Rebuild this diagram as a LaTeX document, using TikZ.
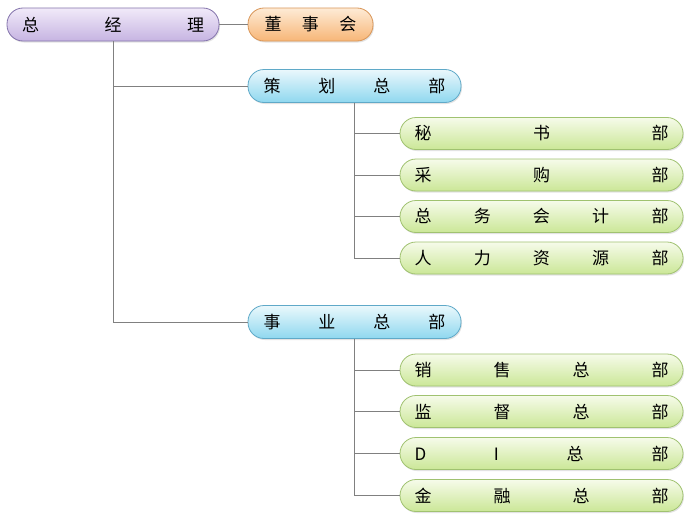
\documentclass[tikz,border=0pt]{standalone}
\usepackage{fontspec}
\setmainfont{Noto Sans CJK SC}
\usetikzlibrary{shadows}
\definecolor{pTop}{HTML}{F1EAF9}
\definecolor{pBot}{HTML}{C6B4E2}
\definecolor{pBrd}{HTML}{8474AC}
\definecolor{oTop}{HTML}{FEEBD6}
\definecolor{oBot}{HTML}{F7B677}
\definecolor{oBrd}{HTML}{D99658}
\definecolor{cTop}{HTML}{EAF8FC}
\definecolor{cBot}{HTML}{8FD7EF}
\definecolor{cBrd}{HTML}{5FA9C8}
\definecolor{gTop}{HTML}{F6FBEA}
\definecolor{gBot}{HTML}{CBE797}
\definecolor{gBrd}{HTML}{A0C270}
\definecolor{lineC}{HTML}{808080}
\begin{document}
\begin{tikzpicture}[x=1pt,y=-1pt,
  box/.style={rectangle, rounded corners=16pt, line width=0.8pt, inner sep=0pt,
    minimum height=33pt, font=\fontsize{17}{20}\selectfont,
    drop shadow={opacity=0.22, shadow xshift=1pt, shadow yshift=-1.5pt}},
  purp/.style={box, draw=pBrd, top color=pTop, bottom color=pBot},
  oran/.style={box, draw=oBrd, top color=oTop, bottom color=oBot},
  cyan/.style={box, draw=cBrd, top color=cTop, bottom color=cBot},
  gren/.style={box, draw=gBrd, top color=gTop, bottom color=gBot, minimum width=283pt, minimum height=32pt},
  conn/.style={draw=lineC, line width=0.9pt}]
\useasboundingbox (0,0) rectangle (696,522);
\fill[white] (0,0) rectangle (696,522);

\node[purp, minimum width=212pt] (gm) at (113,24.5) {\hbox to 182pt{总\hfil 经\hfil 理}};
\node[oran, minimum width=125pt] (bd) at (310.5,24.5) {\hbox to 92pt{董\hfil 事\hfil 会}};
\node[cyan, minimum width=213pt] (ch) at (354.5,86) {\hbox to 182pt{策\hfil 划\hfil 总\hfil 部}};
\node[cyan, minimum width=213pt] (sy) at (354.5,322) {\hbox to 182pt{事\hfil 业\hfil 总\hfil 部}};

\node[gren] (g1) at (541.5,133.5) {\hbox to 254pt{秘\hfil 书\hfil 部}};
\node[gren] (g2) at (541.5,175) {\hbox to 254pt{采\hfil 购\hfil 部}};
\node[gren] (g3) at (541.5,216.5) {\hbox to 254pt{总\hfil 务\hfil 会\hfil 计\hfil 部}};
\node[gren] (g4) at (541.5,258) {\hbox to 254pt{人\hfil 力\hfil 资\hfil 源\hfil 部}};
\node[gren] (h1) at (541.5,370) {\hbox to 254pt{销\hfil 售\hfil 总\hfil 部}};
\node[gren] (h2) at (541.5,411.5) {\hbox to 254pt{监\hfil 督\hfil 总\hfil 部}};
\node[gren] (h3) at (541.5,453.5) {\hbox to 254pt{D\hfil I\hfil 总\hfil 部}};
\node[gren] (h4) at (541.5,495.5) {\hbox to 254pt{金\hfil 融\hfil 总\hfil 部}};

\draw[conn] (gm.east) -- (bd.west);
\draw[conn] (gm.south) |- (ch.west);
\draw[conn] (gm.south) |- (sy.west);
\foreach \n in {g1,g2,g3,g4}{\draw[conn] (ch.south) |- (\n.west);}
\foreach \n in {h1,h2,h3,h4}{\draw[conn] (sy.south) |- (\n.west);}
\end{tikzpicture}
\end{document}
